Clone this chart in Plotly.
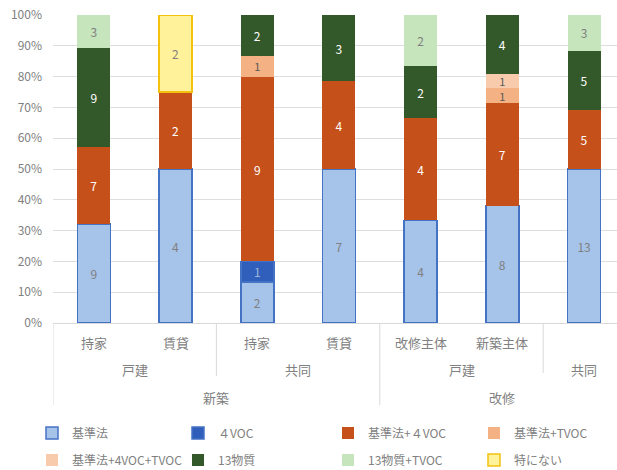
import plotly.graph_objects as go

# --- category levels (innermost first) ---
level1 = ["持家", "賃貸", "持家", "賃貸", "改修主体", "新築主体", ""]
level2 = ["戸建", "共同", "戸建", "共同"]
level2_pos = [0.5, 2.5, 4.5, 6.0]
level3 = ["新築", "改修"]
level3_pos = [1.5, 5.0]

# --- counts per series, one value per bar ---
series_names = ["基準法", "４VOC", "基準法+４VOC", "基準法+TVOC",
                "基準法+4VOC+TVOC", "13物質", "13物質+TVOC", "特にない"]
kijun = [9, 4, 2, 7, 4, 8, 13]
voc4 = [0, 0, 1, 0, 0, 0, 0]
kijun_4voc = [7, 2, 9, 4, 4, 7, 5]
kijun_tvoc = [0, 0, 1, 0, 0, 1, 0]
kijun_4voc_tvoc = [0, 0, 0, 0, 0, 1, 0]
sub13 = [9, 0, 2, 3, 2, 4, 5]
sub13_tvoc = [3, 0, 0, 0, 2, 0, 3]
nothing = [0, 2, 0, 0, 0, 0, 0]

values = [kijun, voc4, kijun_4voc, kijun_tvoc, kijun_4voc_tvoc, sub13, sub13_tvoc, nothing]

fills = ["#A6C3EA", "#2F5FBA", "#C5501A", "#F4B183", "#F8CBAD", "#33582A", "#C6E5BC", "#FFF29A"]
edges = ["#4472C4", "#4472C4", "#C5501A", "#F4B183", "#F8CBAD", "#33582A", "#C6E5BC", "#F2C20F"]
edge_w = [1.5, 1.5, 0, 0, 0, 0, 0, 1.5]
text_cols = ["#808080", "#9FB3DA", "#FFFFFF", "#595959", "#595959", "#FFFFFF", "#808080", "#808080"]
text_sizes = [12, 12, 12, 11, 11, 12, 12, 12]
# legend grid: two rows, each split into a left pair and a right pair of entries
legend_ids = ["legend", "legend", "legend2", "legend2",
              "legend3", "legend3", "legend4", "legend4"]

FONT = "Noto Sans CJK JP"
GRAY = "#808080"
x_pos = list(range(len(level1)))

fig = go.Figure()
for name, vals, fc, ec, ew, tc, ts, lg in zip(series_names, values, fills, edges, edge_w,
                                              text_cols, text_sizes, legend_ids):
    fig.add_trace(go.Bar(
        x=x_pos,
        y=[v if v else None for v in vals],
        name=name,
        text=[str(v) if v else "" for v in vals],
        textposition="inside",
        insidetextanchor="middle",
        textangle=0,
        constraintext="none",
        textfont=dict(color=tc, size=ts, family=FONT),
        marker=dict(color=fc, line=dict(color=ec, width=ew)),
        width=0.404,
        legend=lg,
        hoverinfo="skip",
    ))

# bottom of plot area is at pixel 323, plot height 308
def py(pix):
    return (323 - pix) / 308

annotations = []
for x, t in zip(x_pos, level1):
    if t:
        annotations.append(dict(x=x, y=py(342), text=t))
for x, t in zip(level2_pos, level2):
    annotations.append(dict(x=x, y=py(369), text=t))
for x, t in zip(level3_pos, level3):
    annotations.append(dict(x=x, y=py(397), text=t))
for a in annotations:
    a.update(xref="x", yref="paper", showarrow=False, yanchor="middle",
             font=dict(size=13, color=GRAY, family=FONT))

divider = dict(type="line", xref="x", yref="paper", y0=0,
               line=dict(color="#D9D9D9", width=1))
shapes = [
    dict(divider, x0=-0.5, x1=-0.5, y1=py(405)),
    dict(divider, x0=1.5, x1=1.5, y1=py(376)),
    dict(divider, x0=3.5, x1=3.5, y1=py(405)),
    dict(divider, x0=5.5, x1=5.5, y1=py(373)),
]

legend_common = dict(orientation="h", xref="container", yref="container",
                     xanchor="left", yanchor="middle", itemwidth=30,
                     entrywidth=101, entrywidthmode="pixels",
                     font=dict(size=12, color=GRAY, family=FONT),
                     bgcolor="rgba(0,0,0,0)", traceorder="normal")
col_left, col_right = 32, 328
row_top, row_bottom = 433, 460

fig.update_layout(
    width=617, height=470,
    margin=dict(l=53, r=0, t=15, b=147),
    paper_bgcolor="white", plot_bgcolor="white",
    barmode="stack", barnorm="percent",
    font=dict(family=FONT, color=GRAY),
    xaxis=dict(range=[-0.5, -0.5 + 564 / 81.7], showticklabels=False,
               showgrid=False, zeroline=False, showline=True,
               linecolor="#D9D9D9", linewidth=1, fixedrange=True),
    yaxis=dict(range=[0, 100], dtick=10, ticksuffix="%",
               showgrid=True, gridcolor="#DEDEDE", gridwidth=1,
               zeroline=False, showline=False, ticklabelstandoff=10,
               tickfont=dict(size=12, color=GRAY, family=FONT), fixedrange=True),
    annotations=annotations,
    shapes=shapes,
    legend=dict(legend_common, x=col_left / 617, y=(470 - row_top) / 470),
    legend2=dict(legend_common, x=col_right / 617, y=(470 - row_top) / 470),
    legend3=dict(legend_common, x=col_left / 617, y=(470 - row_bottom) / 470),
    legend4=dict(legend_common, x=col_right / 617, y=(470 - row_bottom) / 470),
    showlegend=True,
)

fig.write_html("out.html")
